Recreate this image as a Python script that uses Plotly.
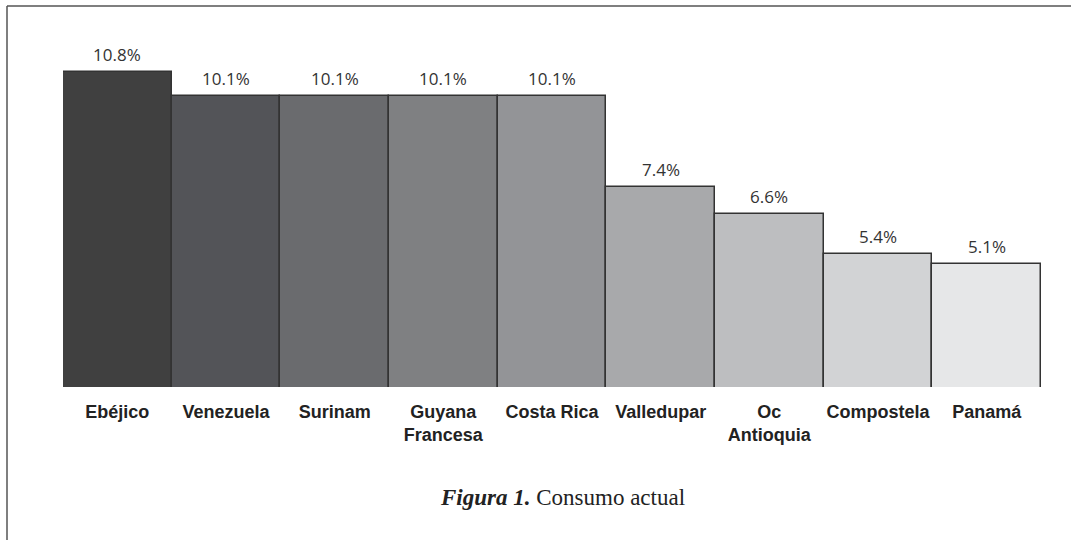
import plotly.graph_objects as go

categories = ["Ebéjico", "Venezuela", "Surinam", "Guyana<br>Francesa", "Costa Rica",
              "Valledupar", "Oc<br>Antioquia", "Compostela", "Panamá"]
values = [10.8, 10.1, 10.1, 10.1, 10.1, 7.4, 6.6, 5.4, 5.1]
labels = ["10.8%", "10.1%", "10.1%", "10.1%", "10.1%", "7.4%", "6.6%", "5.4%", "5.1%"]
colors = ["#404040", "#535458", "#6a6b6e", "#7f8082", "#939497",
          "#a8a9ab", "#bdbec0", "#d2d3d5", "#e6e7e8"]

W, H = 1071, 540
L, R, T, B = 63, 30, 40, 153
pw, ph = W - L - R, H - T - B

fig = go.Figure()
fig.add_trace(go.Bar(
    x=categories, y=values,
    marker=dict(color=colors, line=dict(color="#333333", width=1.5)),
    hoverinfo="skip",
))

for c, v, t in zip(categories, values, labels):
    fig.add_annotation(x=c, y=v, text=t, showarrow=False, yanchor="bottom", yshift=4,
                       font=dict(family="Open Sans, Lato, sans-serif", size=17, color="#333333"))

def px_x(x):
    return (x - L) / pw

def px_y(y):
    return (H - B - y) / ph

line = dict(color="#555555", width=1.5)
fig.add_shape(type="line", xref="paper", yref="paper", x0=px_x(7), x1=px_x(W + 5),
              y0=px_y(6), y1=px_y(6), line=line)
fig.add_shape(type="line", xref="paper", yref="paper", x0=px_x(7), x1=px_x(7),
              y0=px_y(6), y1=px_y(H + 5), line=line)

fig.add_annotation(xref="paper", yref="paper", x=px_x(562), y=px_y(497),
                   text="<b><i>Figura 1.</i></b> Consumo actual", showarrow=False,
                   xanchor="center", yanchor="middle",
                   font=dict(family="Liberation Serif, Times New Roman, serif", size=23, color="#222222"))

fig.update_layout(
    width=W, height=H,
    margin=dict(l=L, r=R, t=T, b=B),
    paper_bgcolor="white", plot_bgcolor="white",
    bargap=0, showlegend=False,
    xaxis=dict(showline=False, showgrid=False, zeroline=False, ticks="",
               ticklabelstandoff=12,
               tickfont=dict(family="Liberation Sans, Arial, sans-serif",
                             size=18, color="#222222", weight="bold")),
    yaxis=dict(range=[1.456, 11.75], visible=False),
)

fig.write_html("out.html", config={"displayModeBar": False},
               post_script="document.body.style.margin='0';")
